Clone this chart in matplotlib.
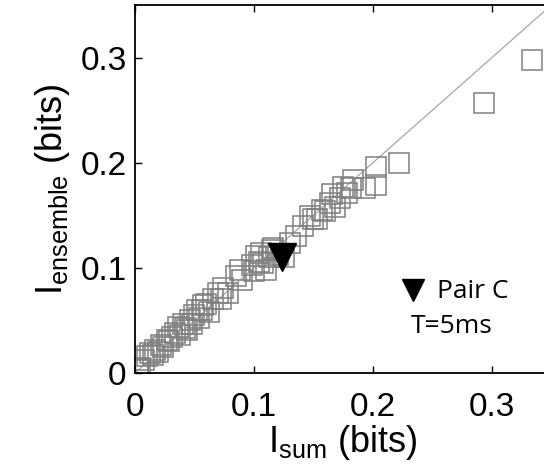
import numpy as np
import matplotlib
matplotlib.use('Agg')
import matplotlib.pyplot as plt

plt.rcParams['font.family'] = ['Liberation Sans', 'DejaVu Sans']
plt.rcParams['mathtext.fontset'] = 'custom'
plt.rcParams['mathtext.rm'] = 'Liberation Sans'

# summed single-cell information vs. ensemble information, one square per pair
i_sum = [0.003, 0.003, 0.004, 0.008, 0.010, 0.013, 0.015, 0.017, 0.019, 0.022,
         0.024, 0.027, 0.029, 0.031, 0.034, 0.036, 0.038, 0.040, 0.042, 0.044,
         0.046, 0.048, 0.050, 0.052, 0.054, 0.056, 0.057, 0.060, 0.062, 0.066,
         0.070, 0.072, 0.074, 0.078, 0.085, 0.088, 0.090, 0.098, 0.100, 0.102,
         0.104, 0.106, 0.108, 0.110, 0.113, 0.115, 0.116, 0.120, 0.125, 0.130,
         0.135, 0.141, 0.147, 0.150, 0.153, 0.157, 0.160, 0.164, 0.166, 0.168,
         0.172, 0.175, 0.178, 0.182, 0.183, 0.193, 0.203, 0.203, 0.222, 0.293,
         0.334]
i_ens = [0.004, 0.003, 0.005, 0.012, 0.016, 0.019, 0.017, 0.022, 0.020, 0.027,
         0.025, 0.031, 0.030, 0.034, 0.038, 0.044, 0.036, 0.047, 0.043, 0.041,
         0.050, 0.047, 0.055, 0.060, 0.052, 0.060, 0.065, 0.066, 0.058, 0.070,
         0.076, 0.070, 0.081, 0.076, 0.092, 0.098, 0.088, 0.103, 0.097, 0.111,
         0.106, 0.114, 0.105, 0.098, 0.110, 0.117, 0.119, 0.112, 0.110, 0.124,
         0.130, 0.140, 0.149, 0.146, 0.146, 0.155, 0.154, 0.162, 0.170, 0.158,
         0.166, 0.177, 0.171, 0.176, 0.184, 0.176, 0.196, 0.179, 0.200, 0.257,
         0.298]

# highlighted pair
pair_c_sum = 0.1233
pair_c_ens = 0.110

fig = plt.figure(figsize=(5.44, 4.69), dpi=100)
ax = fig.add_axes([0.248, 0.2047, 0.7656, 0.7846])

ax.plot([0, 0.35], [0, 0.35], color='#a6a6a6', lw=0.9, zorder=1)
ax.plot(i_sum, i_ens, 's', ms=14.5, mfc='none', mec='#7f7f7f', mew=1.1, zorder=2)
ax.plot([pair_c_sum], [pair_c_ens], 'v', ms=20, color='black', zorder=3)

# in-plot key
ax.plot([0.2336], [0.079], 'v', ms=16, color='black', clip_on=False)
ax.text(0.2538, 0.0714, 'Pair C', fontsize=19, family='Open Sans', va='baseline')
ax.text(0.2315, 0.038, 'T=5ms', fontsize=19, family='Open Sans', va='baseline')

ax.set_xlim(0, 0.35)
ax.set_ylim(0, 0.35)
ax.set_xticks([0, 0.1, 0.2, 0.3])
ax.set_yticks([0, 0.1, 0.2, 0.3])
ax.set_xticklabels(['0', '0.1', '0.2', '0.3'])
ax.set_yticklabels(['0', '0.1', '0.2', '0.3'])
ax.tick_params(direction='in', length=5, width=1, labelsize=24, top=True)
ax.tick_params(axis='x', pad=14)
ax.tick_params(axis='y', pad=6)
for s in ax.spines.values():
    s.set_linewidth(1.3)

ax.set_xlabel(r'$\mathrm{I}_{\mathrm{sum}}$ (bits)', fontsize=26, labelpad=0)
ax.set_ylabel(r'$\mathrm{I}_{\mathrm{ensemble}}$ (bits)', fontsize=26, labelpad=6)

plt.savefig('out.png', dpi=100)
